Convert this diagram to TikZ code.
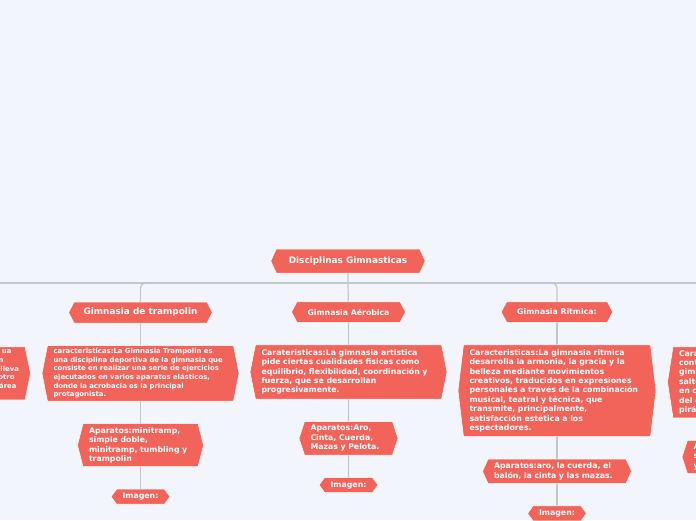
\documentclass[tikz,border=0pt]{standalone}
\usepackage{fontspec}
\setmainfont{DejaVu Sans}
\usetikzlibrary{positioning,backgrounds}

\definecolor{hexred}{HTML}{F2635A}
\definecolor{canvas}{HTML}{F3F5FD}
\definecolor{linkgray}{HTML}{C4C6CC}

\begin{document}
\begin{tikzpicture}[
  x=1pt, y=-1pt,
  node distance=22.5pt,
  hexnode/.style={text=white, inner xsep=6pt, inner ysep=3.6pt, outer sep=0pt,
                  align=left},
  rootnode/.style={hexnode, font=\bfseries\fontsize{8.9}{10.7}\selectfont,
                   inner xsep=12.5pt, minimum height=24pt, align=center},
  topic/.style={hexnode, font=\bfseries\fontsize{7.8}{9.4}\selectfont,
                inner xsep=10.5pt, minimum height=20.5pt, align=center},
  detail/.style={hexnode, font=\bfseries\fontsize{7.8}{9.4}\selectfont},
  smalldetail/.style={hexnode, font=\bfseries\fontsize{6.9}{8.6}\selectfont,
                      inner ysep=3pt, text width=174pt},
  picnode/.style={detail, minimum height=15pt, align=center},
  hexfill/.style={fill=hexred, draw=white, line width=.5pt},
  link/.style={draw=linkgray, line width=1.2pt},
]
\useasboundingbox (0,0) rectangle (696,520);

\node[rootnode] (root) at (348,261) {Disciplinas Gimnasticas};

% ramas
\node[topic, font=\bfseries\fontsize{8.9}{10.7}\selectfont, inner xsep=9.5pt,
      minimum height=21pt] (tramp) at (140.5,312.5) {Gimnasia de trampolin};
\node[topic] (aero) at (348.5,312) {Gimnasia Aérobica};
\node[topic] (ritm) at (557,312) {Gimnasia Ritmica:};

% trampolin
\node[smalldetail, below=of tramp] (trampcar)
 {caracteristicas:La Gimnasia Trampolin es\\una disciplina deportiva de la gimnasia que\\
  consiste en realizar una serie de ejercicios\\ejecutados en varios aparatos elásticos,\\
  donde la acrobacia es la principal\\protagonista.};
\node[detail, text width=103pt, below=of trampcar] (trampapa)
 {Aparatos:minitramp,\\simple doble,\\minitramp, tumbling y\\trampolin};
\node[picnode, below=of trampapa] (trampimg) {Imagen:};

% aerobica
\node[detail, text width=174pt, inner ysep=4.6pt, below=of aero] (aerocar)
 {Carateristicas:La gimnasia artistica\\pide ciertas cualidades fisicas como\\
  equilibrio, flexibilidad, coordinación y\\fuerza, que se desarrollan\\progresivamente.};
\node[detail, text width=76pt, below=of aerocar] (aeroapa)
 {Aparatos:Aro,\\Cinta, Cuerda,\\Mazas y Pelota.};
\node[picnode, below=of aeroapa] (aeroimg) {Imagen:};

% ritmica
\node[detail, text width=175pt, inner ysep=4.6pt, below=of ritm] (ritmcar)
 {Caracteristicas:La gimnasia ritmica\\desarrolla la armonia, la gracia y la\\
  belleza mediante movimientos\\creativos, traducidos en expresiones\\
  personales a través de la combinación\\musical, teatral y técnica, que\\
  transmite, principalmente,\\satisfacción estética a los\\espectadores.};
\node[detail, text width=126pt, below=of ritmcar] (ritmapa)
 {Aparatos:aro, la cuerda, el\\balón, la cinta y las mazas.};
\node[picnode, below=of ritmapa] (ritmimg) {Imagen:};

% cortadas en los bordes
\node[smalldetail, align=right, left=22.5pt of trampcar] (leftcar)
 {ua\kern7.5pt\\n\kern15.5pt\\lleva\\otro\kern4.5pt\\área\kern2.5pt\\\mbox{}};
\node[detail, text width=174pt, anchor=north west] (rightcar)
 at ([xshift=22.5pt,yshift=-2pt]ritmcar.north east)
 {Cara\\cont\\gimn\\salte\\en c\\del c\\pirá};
\node[detail, text width=145pt, below=of rightcar] (rightapa) {A\\s\\y};

\coordinate[below=10pt of root] (bar);

\begin{scope}[on background layer]
  \fill[canvas] (0,0) rectangle (696,520);
  \draw[link] (root) -- (bar) -- (aero) -- (aeroimg);
  \draw[link] (bar -| leftcar) -- (bar -| rightcar);
  \draw[link, rounded corners=5pt] (bar) -| (tramp.north);
  \draw[link, rounded corners=5pt] (bar) -| (ritm.north);
  \draw[link] (tramp) -- (trampimg);
  \draw[link] (ritm) -- (ritmimg);
  \draw[link] (rightcar) -- (rightapa);
  \foreach \n in {root,tramp,aero,ritm,trampcar,trampapa,trampimg,
                  aerocar,aeroapa,aeroimg,ritmcar,ritmapa,ritmimg,
                  leftcar,rightcar,rightapa}
    \path[hexfill] (\n.north west) -- (\n.north east) -- ([xshift=5.5pt]\n.east)
      -- (\n.south east) -- (\n.south west) -- ([xshift=-5.5pt]\n.west) -- cycle;
\end{scope}
\end{tikzpicture}
\end{document}
